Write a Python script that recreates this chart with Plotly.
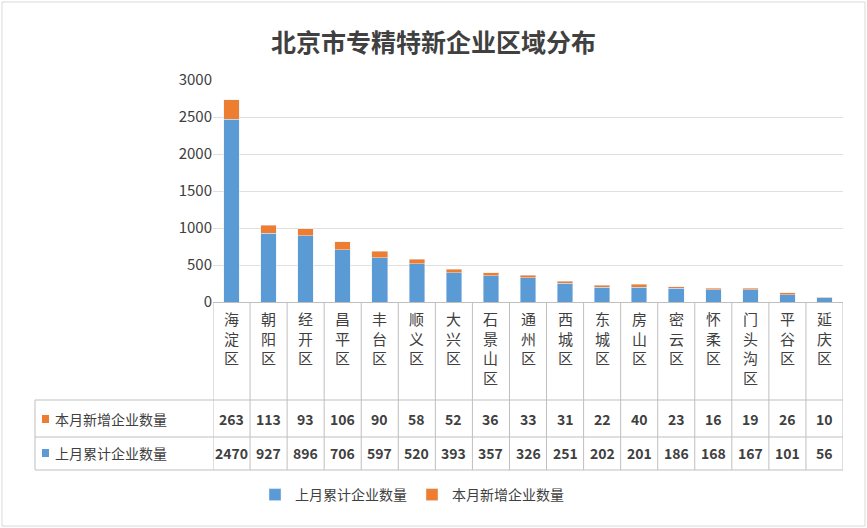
import plotly.graph_objects as go

districts = ["海淀区","朝阳区","经开区","昌平区","丰台区","顺义区","大兴区","石景山区","通州区",
             "西城区","东城区","房山区","密云区","怀柔区","门头沟区","平谷区","延庆区"]
prev_total = [2470,927,896,706,597,520,393,357,326,251,202,201,186,168,167,101,56]
new_added = [263,113,93,106,90,58,52,36,33,31,22,40,23,16,19,26,10]
s_prev = "上月累计企业数量"
s_new = "本月新增企业数量"
BLUE = "#5b9bd5"; ORANGE = "#ed7d31"
FONT = "Noto Sans CJK SC"

W, H = 867, 528
L, R, T, B = 213, 843, 80, 302
def py(p): return (B - p) / (B - T)
def px(p): return (p - L) / (R - L)

fig = go.Figure()
fig.add_bar(x=list(range(len(districts))), y=prev_total, name=s_prev, marker_color=BLUE, width=0.42)
fig.add_bar(x=list(range(len(districts))), y=new_added, name=s_new, marker_color=ORANGE, width=0.42)

shapes = []
ann = []
line = dict(color="#bfbfbf", width=1)
n = len(districts)
for i in range(n + 1):
    shapes.append(dict(type="line", xref="x", yref="paper", x0=i - 0.5, x1=i - 0.5,
                       y0=py(302), y1=py(470), line=line))
for p in (400, 437, 470):
    shapes.append(dict(type="line", xref="paper", yref="paper", x0=px(35), x1=1,
                       y0=py(p), y1=py(p), line=line))
shapes.append(dict(type="line", xref="paper", yref="paper", x0=px(35), x1=px(35),
                   y0=py(400), y1=py(470), line=line))
for i, d in enumerate(districts):
    ann.append(dict(x=i, y=py(306), xref="x", yref="paper", yanchor="top", showarrow=False,
                    text="<br>".join(d), font=dict(size=15, color="#404040", family=FONT)))
    ann.append(dict(x=i, y=py(419), xref="x", yref="paper", yanchor="middle", showarrow=False,
                    text=str(new_added[i]), font=dict(size=14, color="#404040", family=FONT, weight=600)))
    ann.append(dict(x=i, y=py(453), xref="x", yref="paper", yanchor="middle", showarrow=False,
                    text=str(prev_total[i]), font=dict(size=14, color="#404040", family=FONT, weight=600)))
for yy, txt, col in ((419, s_new, ORANGE), (453, s_prev, BLUE)):
    shapes.append(dict(type="rect", xref="paper", yref="paper", x0=px(42), x1=px(49),
                       y0=py(yy - 4), y1=py(yy + 4), fillcolor=col, line_width=0))
    ann.append(dict(x=px(53), y=py(yy), xref="paper", yref="paper", xanchor="left", yanchor="middle",
                    showarrow=False, text=txt, font=dict(size=14, color="#404040", family=FONT)))
shapes.append(dict(type="rect", xref="paper", yref="paper", x0=px(2), x1=px(865),
                   y0=py(2), y1=py(526), line=dict(color="#d9d9d9", width=1)))

fig.update_layout(
    width=W, height=H, barmode="stack", plot_bgcolor="white", paper_bgcolor="white",
    margin=dict(l=L, r=W - R, t=T, b=H - B),
    title=dict(text="北京市专精特新企业区域分布", x=0.5, xanchor="center", y=0.935,
               font=dict(size=25, color="#404040", family=FONT, weight=600)),
    xaxis=dict(range=[-0.5, n - 0.5], showticklabels=False, showgrid=False, zeroline=False,
               showline=True, linecolor="#bfbfbf"),
    yaxis=dict(range=[0, 3000], dtick=500, gridcolor="#e0e0e0", zeroline=False,
               tickfont=dict(size=15, color="#404040", family=FONT), ticklen=0),
    legend=dict(orientation="h", x=px(255), y=py(495), yanchor="middle", traceorder="normal",
                font=dict(size=14, color="#404040", family=FONT)),
    shapes=shapes, annotations=ann,
)
fig.write_html("out.html", config={"displayModeBar": False},
               post_script="document.body.style.margin='0';document.body.style.overflow='hidden';")
